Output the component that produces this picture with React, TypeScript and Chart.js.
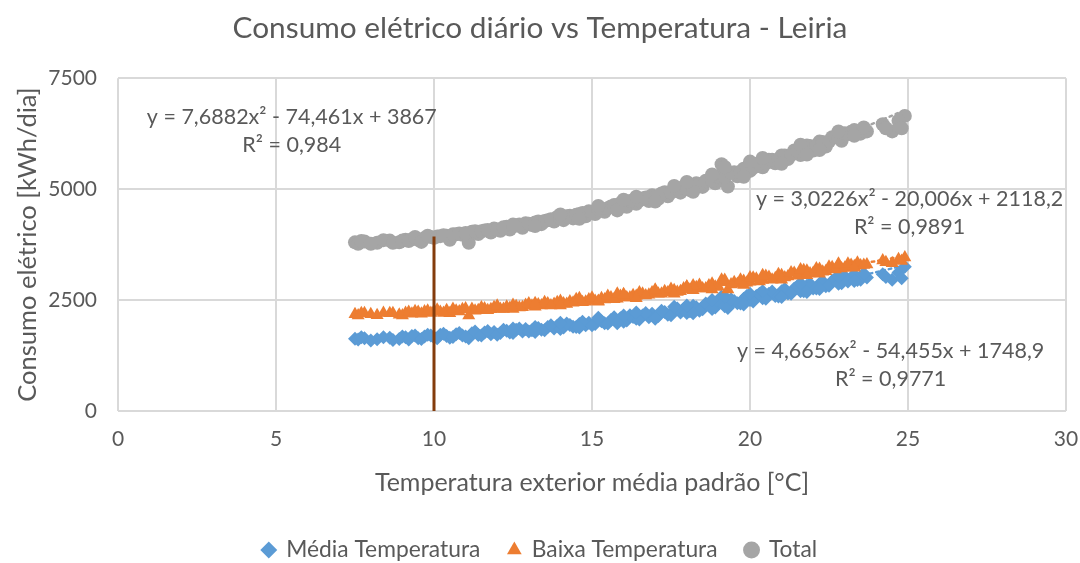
import React, { useEffect, useRef } from 'react';
import { Chart, registerables } from 'chart.js';

Chart.register(...registerables);

const chartTitle = 'Consumo elétrico diário vs Temperatura - Leiria';
const xTitle = 'Temperatura exterior média padrão [°C]';
const yTitle = 'Consumo elétrico [kWh/dia]';
const seriesNames = ['Média Temperatura', 'Baixa Temperatura', 'Total'];
const seriesColors = ['#5B9BD5', '#ED7D31', '#A5A5A5'];

const temps = [
  7.5, 7.6, 7.8, 8.2, 8.6, 8.9, 9.1, 9.3, 9.5, 9.7, 9.9, 10.0, 10.2, 10.4, 10.5, 10.7, 10.9, 11.1, 11.2, 11.4,
  11.6, 11.8, 11.9, 12.1, 12.3, 12.4, 12.6, 12.8, 12.9, 13.1, 13.3, 13.4, 13.6, 13.8, 13.9, 14.1, 14.3, 14.4, 14.6, 14.8,
  14.9, 15.1, 15.3, 15.4, 15.6, 15.8, 15.9, 16.1, 16.3, 16.4, 16.6, 16.8, 16.9, 17.1, 17.3, 17.4, 17.6, 17.8, 17.9, 18.1,
  18.3, 18.5, 18.7, 18.9, 19.1, 19.3, 19.5, 19.6, 19.8, 20.0, 20.2, 20.4, 20.6, 20.8, 21.0, 21.2, 21.4, 21.6, 21.8, 22.0,
  22.2, 22.4, 22.6, 22.9, 23.2, 23.5, 23.7, 24.2, 24.5, 24.9,
  7.7, 8.0, 8.4, 8.7, 9.0, 9.2, 9.4, 9.6, 9.8, 10.1, 10.3, 10.6, 10.8, 11.0, 11.3, 11.5, 11.7, 12.0, 12.2, 12.5,
  12.7, 13.0, 13.2, 13.5, 13.7, 14.0, 14.2, 14.5, 14.7, 15.0, 15.2, 15.5, 15.7, 16.0, 16.2, 16.5, 16.7, 17.0, 17.2, 17.5,
  17.7, 18.0, 18.2, 18.4, 18.6, 18.8, 19.0, 19.2, 19.4, 19.7, 19.9, 20.1, 20.3, 20.5, 20.7, 20.9, 21.1, 21.3, 21.5, 21.7,
  21.9, 22.1, 22.3, 22.5, 22.7, 22.8, 23.0, 23.1, 23.3, 23.4, 23.6, 24.3, 24.7, 24.8,
  14.0, 14.6, 15.2, 15.8, 16.4, 17.0, 17.6, 18.2, 18.8, 19.2, 19.8, 20.4, 21.0, 21.6, 22.2, 22.8, 23.3, 12.5, 13.2, 16.0,
  18.0, 20.0, 21.8,
];
const media = [
  1630, 1610, 1640, 1615, 1650, 1620, 1660, 1690, 1640, 1680, 1700, 1660, 1720, 1690, 1650, 1730, 1700, 1640, 1750, 1710,
  1770, 1730, 1780, 1760, 1810, 1770, 1830, 1790, 1850, 1820, 1870, 1830, 1890, 1860, 1920, 1880, 1940, 1900, 1960, 1930,
  1990, 1960, 2020, 1980, 2050, 2010, 2090, 2040, 2120, 2080, 2150, 2110, 2190, 2140, 2230, 2170, 2260, 2220, 2300, 2250,
  2340, 2290, 2380, 2330, 2580, 2320, 2480, 2430, 2530, 2500, 2590, 2540, 2640, 2590, 2700, 2650, 2760, 2700, 2820, 2760,
  2870, 2810, 2930, 2880, 3000, 2960, 3010, 3080, 2960, 3250,
  1660, 1590, 1660, 1600, 1680, 1610, 1700, 1620, 1720, 1640, 1740, 1670, 1760, 1680, 1790, 1700, 1800, 1720, 1830, 1760,
  1860, 1790, 1890, 1820, 1930, 1850, 1970, 1890, 2010, 1930, 2060, 1970, 2110, 2010, 2160, 2060, 2210, 2110, 2260, 2160,
  2310, 2210, 2370, 2260, 2420, 2300, 2470, 2360, 2520, 2420, 2590, 2470, 2640, 2530, 2690, 2580, 2750, 2640, 2810, 2700,
  2870, 2760, 2920, 2820, 2980, 2870, 3030, 2920, 3070, 2950, 3100, 3020, 3120, 2990,
  1990, 1880, 2100, 1980, 2220, 2080, 2350, 2200, 2500, 2580, 2400, 2700, 2570, 2880, 2750, 3050, 2930, 1860, 1780, 2150,
  2380, 2640, 2680,
];
const baixa = [
  2180, 2150, 2200, 2160, 2200, 2170, 2210, 2190, 2230, 2240, 2210, 2250, 2230, 2270, 2200, 2260, 2290, 2150, 2300, 2270,
  2310, 2290, 2340, 2300, 2350, 2320, 2360, 2340, 2390, 2370, 2400, 2380, 2420, 2410, 2450, 2420, 2470, 2440, 2490, 2460,
  2510, 2480, 2540, 2510, 2560, 2530, 2590, 2560, 2610, 2590, 2640, 2620, 2670, 2640, 2700, 2670, 2720, 2700, 2760, 2730,
  2790, 2760, 2830, 2800, 2960, 2740, 2900, 2860, 2930, 2910, 2980, 2950, 3020, 2990, 3060, 3030, 3110, 3070, 3160, 3110,
  3200, 3150, 3240, 3210, 3290, 3280, 3300, 3390, 3330, 3460,
  2200, 2180, 2210, 2200, 2150, 2230, 2250, 2190, 2260, 2280, 2210, 2300, 2240, 2310, 2260, 2330, 2270, 2370, 2300, 2390,
  2330, 2420, 2350, 2450, 2380, 2480, 2410, 2520, 2450, 2550, 2480, 2590, 2520, 2630, 2560, 2670, 2600, 2710, 2640, 2750,
  2680, 2800, 2720, 2840, 2760, 2870, 2800, 2900, 2850, 2960, 2890, 3000, 2920, 3040, 2960, 3080, 3010, 3120, 3050, 3170,
  3100, 3210, 3140, 3250, 3190, 3290, 3230, 3320, 3260, 3340, 3290, 3350, 3420, 3380,
  2380, 2540, 2460, 2640, 2540, 2730, 2640, 2830, 2740, 2950, 2840, 3060, 2960, 3190, 3090, 3320, 3230, 2300, 2430, 2620,
  2800, 3010, 3060,
];
const total = [
  3800, 3770, 3820, 3790, 3840, 3800, 3860, 3870, 3860, 3900, 3920, 3900, 3940, 3950, 3860, 3980, 3970, 3790, 4040, 3990,
  4070, 4020, 4110, 4060, 4150, 4090, 4180, 4130, 4230, 4190, 4270, 4210, 4300, 4270, 4370, 4300, 4400, 4340, 4440, 4390,
  4500, 4440, 4560, 4490, 4610, 4540, 4680, 4600, 4730, 4670, 4790, 4730, 4860, 4780, 4930, 4840, 4980, 4920, 5060, 4980,
  5130, 5050, 5210, 5130, 5560, 5060, 5380, 5290, 5460, 5410, 5570, 5490, 5660, 5580, 5760, 5680, 5870, 5770, 5980, 5870,
  6070, 5960, 6170, 6090, 6290, 6250, 6300, 6460, 6300, 6650,
  3830, 3770, 3850, 3790, 3840, 3830, 3920, 3810, 3950, 3930, 3960, 3980, 4000, 4010, 4050, 4050, 4080, 4090, 4140, 4160,
  4200, 4220, 4250, 4280, 4320, 4340, 4390, 4420, 4460, 4490, 4550, 4570, 4640, 4650, 4730, 4740, 4810, 4830, 4900, 4920,
  5000, 5010, 5100, 5110, 5190, 5180, 5280, 5270, 5370, 5390, 5480, 5480, 5570, 5580, 5660, 5670, 5760, 5770, 5860, 5870,
  5970, 5980, 6060, 6070, 6170, 6160, 6260, 6240, 6330, 6290, 6390, 6370, 6540, 6370,
  4430, 4330, 4620, 4520, 4830, 4720, 5070, 4940, 5330, 5500, 5280, 5700, 5570, 6000, 5880, 6300, 6200, 4200, 4170, 4760,
  5160, 5620, 5780,
];

// reference vertical line at 10 °C
const refLineX = [10, 10];
const refLineY = [0, 3930];

// polynomial trend lines: [a, b, c] for y = a x² + b x + c
const trendCoefs = [
  [4.6656, -54.455, 1748.9],
  [3.0226, -20.006, 2118.2],
  [7.6882, -74.461, 3867],
];
const trendEquations = [
  'y = 4,6656x² - 54,455x + 1748,9',
  'y = 3,0226x² - 20,006x + 2118,2',
  'y = 7,6882x² - 74,461x + 3867',
];
const trendR2 = ['R² = 0,9771', 'R² = 0,9891', 'R² = 0,984'];
// label anchor (data units) for each trend label block
const labelAnchorX = [24.45, 25.05, 5.5];
const labelAnchorY = [1355, 4766, 6620];

const xMin = 0, xMax = 30, xStep = 5;
const yMin = 0, yMax = 7500, yStep = 2500;

const FONT = 'Lato, "Open Sans", sans-serif';
const TEXT = '#595959';

const trendPlugin = {
  id: 'trendlines',
  beforeDatasetsDraw(chart: any) {
    const { ctx, scales } = chart;
    const xs = scales.x, ys = scales.y;
    const lo = Math.min(...temps), hi = Math.max(...temps);
    const p0 = xs.getPixelForValue(lo), p1 = xs.getPixelForValue(hi);
    ctx.save();
    trendCoefs.forEach((c, i) => {
      ctx.beginPath();
      ctx.setLineDash([2.5, 4]);
      ctx.lineWidth = 2.5;
      ctx.lineCap = 'round';
      ctx.strokeStyle = seriesColors[i];
      for (let px = p0; px <= p1 + 0.01; px += 2) {
        const v = xs.getValueForPixel(px);
        const y = c[0] * v * v + c[1] * v + c[2];
        const py = ys.getPixelForValue(y);
        if (px === p0) ctx.moveTo(px, py); else ctx.lineTo(px, py);
      }
      ctx.stroke();
    });
    ctx.restore();
  },
  afterDraw(chart: any) {
    const { ctx, scales } = chart;
    ctx.save();
    ctx.fillStyle = TEXT;
    ctx.font = `21.5px ${FONT}`;
    ctx.textAlign = 'center';
    ctx.textBaseline = 'middle';
    trendEquations.forEach((eq, i) => {
      const cx = scales.x.getPixelForValue(labelAnchorX[i]);
      const cy = scales.y.getPixelForValue(labelAnchorY[i]);
      ctx.fillText(eq, cx, cy);
      ctx.fillText(trendR2[i], cx, cy + 28);
    });
    ctx.restore();
  },
};

export default function App() {
  const ref = useRef<HTMLCanvasElement | null>(null);
  useEffect(() => {
    if (!ref.current) return;
    const mk = (ys: number[]) => temps.map((x, i) => ({ x, y: ys[i] }));
    const chart = new Chart(ref.current, {
      type: 'scatter',
      data: {
        datasets: [
          {
            label: seriesNames[0], data: mk(media), pointStyle: 'rectRot', pointRadius: 7,
            backgroundColor: seriesColors[0], borderColor: seriesColors[0], borderWidth: 0, order: 3,
          },
          {
            label: seriesNames[1], data: mk(baixa), pointStyle: 'triangle', pointRadius: 7.5,
            backgroundColor: seriesColors[1], borderColor: seriesColors[1], borderWidth: 0, order: 2,
          },
          {
            label: seriesNames[2], data: mk(total), pointStyle: 'circle', pointRadius: 7,
            backgroundColor: seriesColors[2], borderColor: seriesColors[2], borderWidth: 0, order: 1,
          },
          {
            label: 'ref', type: 'line' as any, data: refLineX.map((x, i) => ({ x, y: refLineY[i] })),
            borderColor: '#843C0C', borderWidth: 3, pointRadius: 0, showLine: true, order: 0,
          } as any,
        ],
      },
      options: {
        animation: false,
        responsive: true,
        maintainAspectRatio: false,
        layout: { padding: { left: 0, right: 0, top: 0, bottom: -8.4 } },
        plugins: {
          title: {
            display: true, text: chartTitle, color: TEXT,
            font: { family: FONT, size: 29.8, weight: 'normal' },
            padding: { top: 10.2, bottom: 32.2 },
          },
          legend: {
            position: 'bottom',
            labels: {
              usePointStyle: true, color: TEXT, padding: 28, boxWidth: 12, boxHeight: 12,
              font: { family: FONT, size: 22.8 },
              filter: (item: any) => seriesNames.includes(item.text),
              sort: (a: any, b: any) => a.datasetIndex - b.datasetIndex,
            },
          },
          tooltip: { enabled: false },
        },
        scales: {
          x: {
            type: 'linear', min: xMin, max: xMax,
            ticks: { stepSize: xStep, color: TEXT, font: { family: FONT, size: 21 }, padding: 16,
              callback: (v: any) => String(v) },
            grid: { color: '#D9D9D9', lineWidth: 2, drawTicks: false },
            border: { display: false },
            title: { display: true, text: xTitle, color: TEXT, font: { family: FONT, size: 25 }, padding: { top: 0, bottom: 12.6 } },
            afterFit: (s: any) => { s.height = 99.6; s.paddingRight = 14; s.paddingLeft = 0; },
          },
          y: {
            type: 'linear', min: yMin, max: yMax,
            ticks: { stepSize: yStep, color: TEXT, font: { family: FONT, size: 21 }, padding: 21,
              callback: (v: any) => String(v) },
            grid: { color: '#D9D9D9', lineWidth: 2, drawTicks: false },
            border: { display: false },
            title: { display: true, text: yTitle, color: TEXT, font: { family: FONT, size: 25.5 }, padding: { top: 12, bottom: 0 } },
            afterFit: (s: any) => { s.width = 118; },
          },
        },
      },
      plugins: [trendPlugin],
    });
    return () => chart.destroy();
  }, []);
  return (
    <div style={{ position: 'fixed', left: 0, top: 0, width: 1080, height: 563, background: '#fff' }}>
      <canvas ref={ref} />
    </div>
  );
}
